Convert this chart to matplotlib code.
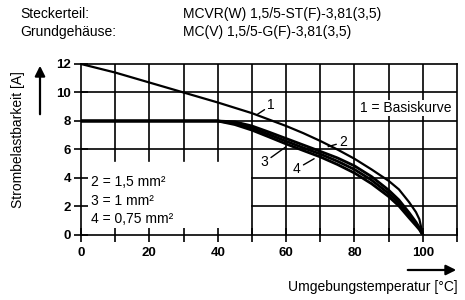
import matplotlib
matplotlib.use("Agg")
import matplotlib.pyplot as plt

plt.rcParams['font.family'] = ['Liberation Sans', 'DejaVu Sans']

# Kurve 1 (Basiskurve)
t1 = [0, 10, 20, 30, 40, 50, 55, 60, 65, 70, 75, 80, 85, 90, 93, 96, 98, 99, 100]
i1 = [12, 11.4, 10.7, 10.0, 9.3, 8.55, 8.1, 7.65, 7.15, 6.6, 6.0, 5.35, 4.6, 3.8,
      3.2, 2.3, 1.6, 1.1, 0]
# Kurven 2, 3, 4
t2 = [0, 40, 45, 50, 55, 60, 65, 70, 75, 80, 85, 90, 93, 96, 98, 99, 100]
i2 = [8, 8, 7.94, 7.65, 7.22, 6.77, 6.32, 5.87, 5.41, 4.85, 4.1, 3.15, 2.46, 1.56,
      0.9, 0.52, 0]
t3 = [0, 40, 45, 50, 55, 60, 65, 70, 75, 80, 85, 90, 93, 96, 98, 99, 100]
i3 = [8, 8, 7.85, 7.5, 7.05, 6.58, 6.12, 5.68, 5.18, 4.6, 3.85, 2.92, 2.25, 1.38,
      0.78, 0.45, 0]
t4 = [0, 40, 45, 50, 55, 60, 65, 70, 75, 80, 85, 90, 93, 96, 98, 99, 100]
i4 = [8, 8, 7.75, 7.36, 6.88, 6.39, 5.93, 5.48, 4.95, 4.35, 3.6, 2.7, 2.04, 1.2,
      0.66, 0.38, 0]

xticks = [0, 10, 20, 30, 40, 50, 60, 70, 80, 90, 100, 110]
xlabels = ['0', '', '20', '', '40', '', '60', '', '80', '', '100', '']
yticks = [0, 2, 4, 6, 8, 10, 12]

fig = plt.figure(figsize=(4.65, 3.0), dpi=100)
ax = fig.add_axes([0.1742, 0.2167, 0.8086, 0.57])
ax.set_xlim(0, 110)
ax.set_ylim(0, 12)

lw = 1.2
# Gitter (teilweise ausgespart wegen Legendentext)
for x in [10, 20, 30, 40]:
    ax.plot([x, x], [5.2, 12], color='black', lw=lw)
for x in [50, 60, 70, 80, 90, 100]:
    ax.plot([x, x], [0, 12], color='black', lw=lw)
for y in [6, 8, 10]:
    ax.plot([0, 110], [y, y], color='black', lw=lw)
for y in [2, 4]:
    ax.plot([50, 110], [y, y], color='black', lw=lw)

ax.plot(t1, i1, color='black', lw=1.6)
ax.plot(t2, i2, color='black', lw=2.0)
ax.plot(t3, i3, color='black', lw=2.0)
ax.plot(t4, i4, color='black', lw=2.0)

for s in ax.spines.values():
    s.set_linewidth(lw)

ax.set_xticks(xticks)
ax.set_xticklabels(xlabels, fontweight='bold', fontsize=9.5)
ax.set_yticks(yticks)
ax.set_yticklabels([str(v) for v in yticks], fontweight='bold', fontsize=9.5)
ax.tick_params(axis='both', direction='inout', length=10, width=lw)
ax.tick_params(axis='x', pad=4)
ax.tick_params(axis='y', pad=2)

# Beschriftungen
fs = 10
ax.text(3, 3.75, '2 = 1,5 mm²', fontsize=fs, va='center')
ax.text(3, 2.4, '3 = 1 mm²', fontsize=fs, va='center')
ax.text(3, 1.15, '4 = 0,75 mm²', fontsize=fs, va='center')
ax.text(108.5, 8.9, '1 = Basiskurve', fontsize=fs, va='center', ha='right',
        bbox=dict(facecolor='white', edgecolor='none', pad=0.5))

ax.annotate('1', xy=(51.5, 8.45), xytext=(54.5, 9.1), fontsize=fs, va='center',
            arrowprops=dict(arrowstyle='-', lw=1, shrinkA=0, shrinkB=0))
ax.annotate('2', xy=(72.3, 6.2), xytext=(75.5, 6.5), fontsize=fs, va='center',
            arrowprops=dict(arrowstyle='-', lw=1, shrinkA=0, shrinkB=0))
ax.annotate('3', xy=(60.6, 6.3), xytext=(52.5, 5.1), fontsize=fs, va='center',
            arrowprops=dict(arrowstyle='-', lw=1, shrinkA=0, shrinkB=2))
ax.annotate('4', xy=(68.9, 5.45), xytext=(62, 4.65), fontsize=fs, va='center',
            arrowprops=dict(arrowstyle='-', lw=1, shrinkA=0, shrinkB=2))

# Achsentitel mit Pfeilen
fig.text(18 / 465, 1 - 140 / 300, 'Strombelastbarkeit [A]', rotation=90,
         fontsize=fs, ha='center', va='center')
fig.text(458 / 465, 1 - 287 / 300, 'Umgebungstemperatur [°C]',
         fontsize=fs, ha='right', va='center')
fig.patches.append(matplotlib.patches.FancyArrowPatch(
    (40 / 465, 1 - 117 / 300), (40 / 465, 1 - 63 / 300),
    transform=fig.transFigure, arrowstyle='-|>,head_length=6,head_width=3',
    color='black', lw=1.6))
fig.patches.append(matplotlib.patches.FancyArrowPatch(
    (405 / 465, 1 - 270 / 300), (459 / 465, 1 - 270 / 300),
    transform=fig.transFigure, arrowstyle='-|>,head_length=6,head_width=3',
    color='black', lw=1.6))

# Kopfzeilen
fig.text(20 / 465, 1 - 14 / 300, 'Steckerteil:', fontsize=fs, va='center')
fig.text(20 / 465, 1 - 32 / 300, 'Grundgehäuse:', fontsize=fs, va='center')
fig.text(183 / 465, 1 - 14 / 300, 'MCVR(W) 1,5/5-ST(F)-3,81(3,5)', fontsize=fs, va='center')
fig.text(183 / 465, 1 - 32 / 300, 'MC(V) 1,5/5-G(F)-3,81(3,5)', fontsize=fs, va='center')

fig.savefig('out.png', dpi=100)
